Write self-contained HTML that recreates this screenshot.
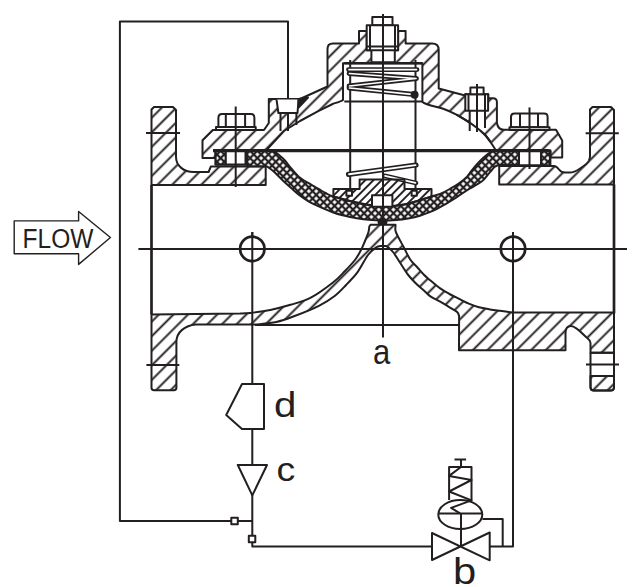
<!DOCTYPE html>
<html><head><meta charset="utf-8"><style>
html,body{margin:0;padding:0;background:#fff;}
body{width:642px;height:587px;overflow:hidden;}
svg{display:block;}
text{font-family:"Liberation Sans",sans-serif;fill:#231f20;}
</style></head><body>
<svg width="642" height="587" viewBox="0 0 642 587">
<defs>
<pattern id="h" patternUnits="userSpaceOnUse" width="10.3" height="10.3" patternTransform="rotate(45)"><line x1="5.15" y1="-1" x2="5.15" y2="12.3" stroke="#231f20" stroke-width="1.9"/></pattern>
<pattern id="h2" patternUnits="userSpaceOnUse" width="5.8" height="5.8" patternTransform="rotate(45)"><line x1="2.9" y1="-1" x2="2.9" y2="7" stroke="#231f20" stroke-width="1.9"/></pattern>
<pattern id="x" patternUnits="userSpaceOnUse" width="5.2" height="5.2" patternTransform="rotate(45)"><rect width="5.2" height="5.2" fill="#fff"/><line x1="2.6" y1="-1" x2="2.6" y2="6.2" stroke="#231f20" stroke-width="2.2"/><line x1="-1" y1="2.6" x2="6.2" y2="2.6" stroke="#231f20" stroke-width="2.2"/></pattern>
</defs>
<g fill="none" stroke="#231f20" stroke-width="2" stroke-linejoin="round">
<path d="M288,131 V21.4 H119.9 V521 H252"/>
<path d="M252.3,232 V384 M252.3,429 V465 M252.3,495 V546.5 H432"/>
<path d="M489.7,546.5 H513 V232"/>
<path d="M482.4,519 H502.7 V546.5"/>
<rect x="231.3" y="517.8" width="6.5" height="6.5" fill="#fff"/>
<rect x="248.8" y="535.8" width="6.5" height="6.5" fill="#fff"/>
<path d="M242,384 H264 V429 H242 L226.2,415 Z" fill="#fff"/>
<path d="M237.8,465 H267 L252.3,495.4 Z" fill="#fff"/>
<path d="M432,533 V560 L489.7,532.5 V560.3 Z" fill="#fff"/>
<ellipse cx="460.3" cy="514.5" rx="22" ry="14.5" fill="#fff"/>
<path d="M438.3,513.5 H482.3 M461,513.5 V546"/>
<path d="M449.1,500 V467 H471.5 V500.4 M461,467 V459.5 M454.5,459.5 H466.1"/>
<path d="M461,467 L449.1,475.9 L471.5,480 L449.1,491.5 L471.5,500.4 L451.1,507.9 L460,513.3"/>
<path d="M138.4,248.9 H627"/>
<path d="M14.2,220.9 H78.6 V211.5 L110.4,237.5 L78.6,264.4 V253.7 H14.2 Z" stroke-width="1.4"/>
<path d="M151.5,109.5 L154,107 H173 L176,110 V157 C176,166 184,172 193.6,172 H208.6 L210.9,166.4 H265.7 V185 H151.5 Z" fill="url(#h)"/>
<path d="M151.5,185 V314.4" stroke-width="2.7"/>
<path d="M146,133 H180"/>
<path d="M590,109.5 L592.5,107 H611 L614,110 V184.5 H499.2 V166 H554 C556,166 557.5,167.5 559,169.5 C560.5,171.5 562,172.6 565,172.6 H570 C574,172.6 577,170.5 580,168.5 C584,166 588,163 589,160.5 L590,157 Z" fill="url(#h)"/>
<path d="M614,184.5 V313.5" stroke-width="2.7"/>
<path d="M585.6,133.3 H618.8"/>
<path d="M151.5,387.8 V314.4 L240,313.5 C241.7,313.4 244.9,313.5 250.0,312.9 C255.1,312.3 263.6,311.2 270.3,309.9 C277.1,308.5 283.8,306.8 290.5,304.8 C297.2,302.8 303.7,301.4 310.8,297.7 C317.9,294.0 327.3,286.9 333.0,282.5 C338.7,278.1 341.3,274.8 345.0,271.0 C348.7,267.2 352.6,263.0 355.3,259.5 C358.0,256.0 359.3,253.2 361.0,250.0 C362.7,246.8 364.1,243.0 365.4,240.0 C366.6,237.0 367.9,234.2 368.5,232.0 C369.1,229.8 369.2,227.4 369.3,226.5 L370.5,224.7 H395.5 L395.5,226.0 C395.6,227.1 394.6,228.9 396.0,232.4 C397.4,235.9 401.2,242.5 403.6,247.0 C406.0,251.5 408.0,256.2 410.2,259.5 C412.4,262.8 414.7,264.5 417.0,267.0 C419.3,269.5 421.6,272.4 423.9,274.7 C426.1,276.9 427.8,278.2 430.5,280.5 C433.2,282.8 436.9,286.1 440.2,288.4 C443.5,290.7 447.3,292.8 450.4,294.5 C453.5,296.2 455.5,297.1 458.6,298.6 C461.7,300.1 465.4,302.2 468.8,303.7 C472.2,305.1 475.5,306.4 479.0,307.3 C482.5,308.2 486.5,308.8 490.0,309.4 C493.5,310.0 496.2,310.3 500.0,310.8 C503.8,311.3 510.8,312.3 513.0,312.6 H614 V352.7 H590.5 V343 C590.5,340 588,339 585,336 C580,331 575,326 571,326 C568,326 565.5,328 565.5,333 V350.3 H459 L459.1,316.0 C458.9,315.5 458.4,313.7 457.8,312.8 C457.2,311.9 456.8,311.7 455.6,310.9 C454.4,310.1 453.0,309.3 450.4,307.8 C447.8,306.3 443.6,303.6 440.2,301.7 C436.8,299.8 432.7,298.0 430.0,296.1 C427.3,294.2 426.3,292.6 423.9,290.5 C421.5,288.4 418.3,285.8 415.7,283.2 C413.1,280.6 410.4,277.7 408.2,275.0 C406.0,272.3 404.4,269.4 402.7,266.8 C401.0,264.2 399.6,262.0 398.0,259.5 C396.4,257.0 394.5,253.9 393.0,252.0 C391.5,250.1 390.2,249.0 389.0,248.0 C387.8,247.0 386.5,246.3 386.0,246.0 L381.0,246.0 C380.2,246.2 378.2,246.0 376.0,247.5 C373.8,249.0 371.1,250.8 368.0,255.0 C364.9,259.1 361.1,267.4 357.4,272.4 C353.7,277.4 349.7,281.1 346.0,285.0 C342.3,288.9 339.5,292.2 335.0,295.7 C330.5,299.2 325.6,302.4 318.9,305.8 C312.2,309.2 301.7,313.3 294.6,316.0 C287.5,318.7 282.7,320.6 276.3,322.0 C269.9,323.4 259.4,324.1 256.0,324.5 H195.8 C185,325.5 176.4,332 176.4,342 V387.8 Q176.4,390.2 174,390.2 H154 Q151.5,390.2 151.5,387.8 Z" fill="url(#h)"/>
<path d="M255,325 H459"/>
<path d="M146.4,365 H179.3"/>
<path d="M590.5,352.7 H614 M590.5,352.7 V387 Q590.5,390.6 594,390.6 H610.5 Q614,390.6 614,387 V313.5"/>
<path d="M590.5,376 H614 V387 Q614,390.6 610.5,390.6 H594 Q590.5,390.6 590.5,387 Z" fill="url(#h)"/>
<path d="M586,364.6 H619"/>
<path d="M202.5,158 V140.2 L212.8,130 H264 L268.8,123 V99 H300 L327.5,86.5 V49 Q327.5,43.6 333,43.6 H359 V31 H366.7 V50.2 H371.4 V62.3 H394.8 V50.2 H398.1 V31 H405.6 V43.6 H432 Q438.7,43.6 438.7,50 V88.5 L465.1,95.5 V94.2 H488.3 V98.2 H493 Q496.9,98.2 496.9,102 V123 Q498,129.8 504,129.8 L508.5,129.8 H556 L562.2,140.4 V157.5 H550.4 V150.5 H497 L496.0,150.5 C495.1,149.1 492.2,144.5 490.5,142.0 C488.8,139.5 487.3,137.4 485.6,135.5 C483.9,133.6 483.0,132.7 480.3,130.6 C477.6,128.5 473.7,125.3 469.7,122.7 C465.7,120.1 460.9,117.0 456.5,114.7 C452.1,112.4 447.6,110.4 443.2,108.8 C438.8,107.2 433.2,106.3 430.0,105.3 C426.8,104.3 425.3,103.6 424.0,103.0 C422.7,102.4 422.7,101.8 422.4,101.6 V63.3 H343 V100 C341,101.5 337,102.5 332.7,104 L318.7,110.8 L300,121 L284,131 L266,150.5 H215.6 V158 Z" fill="url(#h)"/>
<path d="M344.3,101.6 H422.4"/>
<path d="M344.3,63.3 H422.4" stroke-width="2.6"/>
<rect x="372.3" y="17.1" width="20.2" height="8.2" fill="#fff"/>
<rect x="366.7" y="25.3" width="31.4" height="24.9" fill="#fff"/>
<path d="M370,25.3 V50.2 M395,25.3 V50.2 M366.7,46.4 H398.1"/>
<path d="M276.5,99.4 L278.4,113 H297.5 L298.6,99.4" fill="#fff"/>
<path d="M280.5,113 V131 M296.4,113 V125"/>
<path d="M298.6,99 L308,97.5 L298.6,107.5 Z" fill="#231f20"/>
<rect x="469.7" y="110.7" width="15.3" height="22" fill="#fff" stroke="none"/>
<path d="M490.5,142.0 C489.7,140.9 487.3,137.4 485.6,135.5 C483.9,133.6 483.0,132.7 480.3,130.6 C477.6,128.5 473.7,125.3 469.7,122.7 C465.7,120.1 458.7,116.0 456.5,114.7"/>
<path d="M469.7,110.7 V131 M485,110.7 V128"/>
<rect x="465.3" y="94.2" width="22.8" height="16.5" fill="#fff"/>
<path d="M468.5,94.2 V110.7 M485,94.2 V110.7"/>
<rect x="470.4" y="87.6" width="13.2" height="6.6" fill="#fff"/>
<path d="M477,84 V132"/>
<path d="M218.4,127.1 V118 Q218.4,114 222,114 H251 Q254.4,114 254.4,118 V127.1 Z M225.8,114 V127.1 M245.1,114 V127.1" fill="#fff"/>
<rect x="216" y="127.1" width="39.7" height="3" fill="#fff"/>
<path d="M235.7,106.5 V187"/>
<path d="M511,127.3 V117 Q511,113.6 514.5,113.6 H544 Q547.6,113.6 547.6,117 V127.3 Z M520,113.6 V127.3 M538,113.6 V127.3" fill="#fff"/>
<rect x="509.5" y="127.3" width="40" height="2.7" fill="#fff"/>
<path d="M529.5,107.4 V169"/>
<path d="M215.6,150.5 V164.5 H266 M499.2,165.4 H550.4 V150.5"/>
<rect x="215.6" y="150.5" width="10.2" height="14" fill="url(#x)"/>
<rect x="225.8" y="150.5" width="19.7" height="14" fill="#fff"/>
<rect x="518.5" y="150.5" width="22.5" height="14.8" fill="#fff"/>
<rect x="541" y="150.5" width="9" height="14.8" fill="url(#x)"/>
<path d="M235.7,150 V165 M529.5,150 V165"/>
<path d="M247,150.5 L264.0,150.5 C265.6,150.7 271.0,150.8 273.5,151.5 C276.0,152.2 277.2,153.6 279.0,155.0 C280.8,156.4 282.4,157.8 284.5,160.0 C286.6,162.2 288.9,165.7 291.3,168.5 C293.7,171.3 296.6,174.8 299.0,177.0 C301.4,179.2 303.5,180.1 305.8,181.5 C308.1,182.9 310.5,184.2 312.6,185.5 C314.7,186.8 316.3,187.8 318.5,189.0 C320.7,190.2 323.1,191.8 325.6,193.0 C328.1,194.2 328.2,194.9 333.4,196.5 C338.6,198.1 348.9,200.9 356.7,202.5 C364.5,204.1 372.2,205.7 380.0,206.0 C387.8,206.3 394.7,206.2 403.5,204.5 C412.3,202.8 426.5,197.9 432.8,196.0 C439.1,194.1 438.5,194.5 441.3,193.3 C444.1,192.1 447.0,190.6 449.8,189.0 C452.6,187.4 455.5,185.8 458.3,183.8 C461.1,181.8 464.7,179.1 466.8,177.0 C468.9,174.9 469.4,173.4 471.2,171.2 C473.0,169.0 475.3,166.0 477.4,163.7 C479.5,161.4 481.5,159.3 483.6,157.4 C485.7,155.5 487.7,153.7 489.8,152.5 C491.9,151.3 495.0,150.8 496.0,150.5 H519 V165 L498.6,165.0 C498.0,165.3 496.3,165.6 494.8,166.8 C493.3,168.0 491.7,170.2 489.8,172.4 C487.9,174.6 485.7,177.9 483.6,179.9 C481.5,181.9 479.3,183.1 477.0,184.5 C474.7,185.9 472.4,187.1 470.0,188.5 C467.6,189.9 465.3,191.4 462.6,193.2 C459.9,194.9 456.8,197.2 454.0,199.0 C451.2,200.8 448.4,202.5 445.6,204.1 C442.8,205.7 439.9,207.4 437.0,208.8 C434.1,210.2 431.3,211.4 428.5,212.6 C425.7,213.8 423.4,214.8 420.0,215.8 C416.6,216.8 412.0,217.8 408.1,218.5 C404.2,219.2 400.7,219.7 396.4,220.0 C392.1,220.3 387.1,220.5 382.4,220.5 C377.7,220.5 372.7,220.2 368.4,219.8 C364.1,219.4 359.8,218.7 356.7,218.2 C353.6,217.7 352.4,217.5 350.0,217.0 C347.6,216.5 345.3,216.0 342.6,215.3 C339.9,214.6 336.8,213.8 334.0,212.8 C331.2,211.8 328.4,210.6 325.6,209.4 C322.8,208.2 319.9,206.9 317.0,205.6 C314.1,204.2 311.6,203.2 308.5,201.3 C305.4,199.4 301.0,196.3 298.1,194.1 C295.2,191.9 293.9,190.4 291.3,188.1 C288.8,185.8 285.5,182.9 282.8,180.4 C280.1,177.9 277.2,174.8 275.1,172.8 C273.0,170.8 271.5,169.6 270.0,168.5 C268.5,167.4 266.8,166.6 266.2,166.2 H247 Z" fill="url(#x)"/>
<path d="M213,150.6 H549" stroke-width="3.1"/>
<path d="M350.2,60 V191 M415.5,60 V191"/>
<g stroke-width="4.8" stroke-linecap="round"><path d="M348.5,69.6 L417,69.6 M349,73.5 L416.5,78.5 L349,86 M349,88 L414.5,94.5"/></g>
<g stroke="#fff" stroke-width="1.7" stroke-linecap="round"><path d="M349,69.6 L416.5,69.6 M349.5,73.5 L416,78.5 L349.5,86 M349.5,88 L412,94.3"/></g>
<circle cx="414.6" cy="94.8" r="3" fill="#231f20"/>
<path d="M348.5,174.3 L416,165" stroke-width="5.2" stroke-linecap="round"/>
<path d="M349,174.2 L415.5,165.1" stroke="#fff" stroke-width="1.9" stroke-linecap="round"/>
<path d="M384.5,175.8 L416,183" stroke-width="4.6" stroke-linecap="round"/>
<path d="M385,175.9 L415.5,182.9" stroke="#fff" stroke-width="1.6" stroke-linecap="round"/>
<path d="M333.4,196.4 V189 H359.6 V179.6 H404.5 V189 H431.5 V196.5 L431.5,196.5 C426.8,197.9 412.1,203.2 403.5,204.8 C394.9,206.4 387.8,206.6 380.0,206.3 C372.2,206.0 364.5,204.5 356.7,202.8 C348.9,201.2 337.3,197.5 333.4,196.4 Z" fill="url(#h2)"/>
<rect x="346.4" y="190.8" width="5.6" height="5" fill="#fff"/>
<rect x="411.6" y="190.8" width="5.2" height="5" fill="#fff"/>
<rect x="372" y="195.2" width="20.4" height="11.5" fill="#fff"/>
<circle cx="252.3" cy="248.9" r="12.2" stroke-width="2.7" fill="#fff"/>
<circle cx="513" cy="248.9" r="12.2" stroke-width="2.7" fill="#fff"/>
<path d="M240,248.9 H264.5 M252.3,232 V262 M500.5,248.9 H525.5 M513,232 V262"/>
<path d="M383,14 V337.4"/>
<ellipse cx="382.5" cy="222" rx="4" ry="2.4" fill="#231f20"/>
</g>
<text transform="matrix(0.909,0,0,1.016,22.58,247.70)" font-size="27">FLOW</text>
<text transform="matrix(0.861,0,0,0.950,372.98,363.80)" font-size="36">a</text>
<text transform="matrix(1.159,0,0,1.026,452.88,583.70)" font-size="36">b</text>
<text transform="matrix(1.040,0,0,0.940,276.42,480.60)" font-size="36">c</text>
<text transform="matrix(1.119,0,0,0.993,274.06,416.60)" font-size="36">d</text>
</svg>
</body></html>
